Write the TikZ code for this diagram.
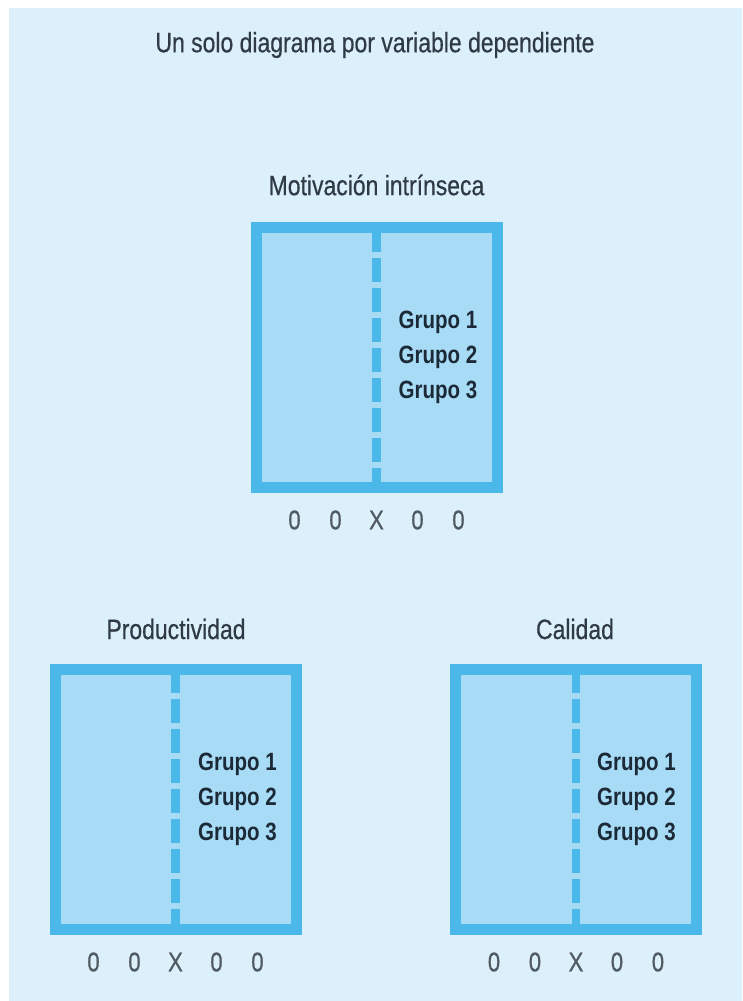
\documentclass[tikz,border=0pt]{standalone}
\usepackage{fontspec}
\newfontfamily\lblfont[FakeStretch=0.82,FakeBold=0.5]{Liberation Sans}
\newfontfamily\grpfont[FakeStretch=0.82]{Liberation Sans}
\definecolor{panelbg}{HTML}{DCF0FB}
\definecolor{frameblue}{HTML}{4BB8EA}
\definecolor{cellfill}{HTML}{A8DCF6}
\definecolor{lbltext}{HTML}{2F3A44}
\definecolor{grptext}{HTML}{1C2A38}
\definecolor{obstext}{HTML}{505A62}
\tikzset{
  design/.style={draw=frameblue, fill=cellfill, line width=11pt,
    minimum width=241pt, minimum height=260pt, inner sep=0pt, outer sep=0pt},
  divider/.style={draw=frameblue, line width=8.5pt, dash pattern=on 24pt off 6pt},
  heading/.style={font=\lblfont\fontsize{28}{32}\selectfont, text=lbltext, inner sep=0pt},
  groups/.style={font=\grpfont\bfseries\fontsize{25}{35}\selectfont, text=grptext,
    align=left, anchor=west, inner sep=0pt},
  obsrow/.style={font=\lblfont\fontsize{27}{30}\selectfont, text=obstext, inner sep=0pt}
}
\newcommand{\obscell}[1]{\makebox[41pt]{#1}}
\newcommand{\obsline}{\obscell{0}\obscell{0}\obscell{X}\obscell{0}\obscell{0}}
\begin{document}
\begin{tikzpicture}[x=1pt,y=-1pt]
  \path[use as bounding box, fill=white] (0,0) rectangle (742,1001);
  \fill[panelbg] (9,8) rectangle (742,1001);

  \node[heading] (title) at (375,45) {Un solo diagrama por variable dependiente};

  % upper design: intrinsic motivation
  \node[design] (mot) at (376.5,357.5) {};
  \draw[divider] (mot.north) -- (mot.south);
  \node[heading] (motlbl) at (376.5,185) {Motivación intrínseca};
  \node[groups] (motgrp) at ([xshift=22pt]mot.center) {Grupo 1\\Grupo 2\\Grupo 3};
  \node[obsrow] (motobs) at ([yshift=-32.5pt]mot.south) {\obsline};

  % lower left design: productivity
  \node[design] (prod) at (175.5,799) {};
  \draw[divider] (prod.north) -- (prod.south);
  \node[heading] (prodlbl) at (176,629) {Productividad};
  \node[groups] (prodgrp) at ([xshift=22.5pt]prod.center) {Grupo 1\\Grupo 2\\Grupo 3};
  \node[obsrow] (prodobs) at ([yshift=-33pt]prod.south) {\obsline};

  % lower right design: quality
  \node[design] (cal) at (576,799) {};
  \draw[divider] (cal.north) -- (cal.south);
  \node[heading] (callbl) at (575,629) {Calidad};
  \node[groups] (calgrp) at ([xshift=21pt]cal.center) {Grupo 1\\Grupo 2\\Grupo 3};
  \node[obsrow] (calobs) at ([yshift=-33pt]cal.south) {\obsline};
\end{tikzpicture}
\end{document}
